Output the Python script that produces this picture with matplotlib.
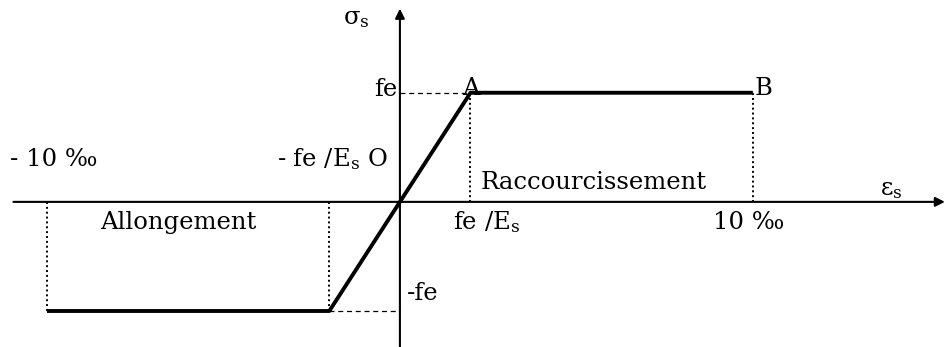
import matplotlib
matplotlib.use("Agg")
import matplotlib.pyplot as plt

# strain in per mille, stress normalised by fe
eps_limit = 10.0
eps_yield = 2.0
fe = 1.0

curve_x = [-eps_limit, -eps_yield, eps_yield, eps_limit]
curve_y = [-fe, -fe, fe, fe]

plt.rcParams['font.family'] = ['DejaVu Serif']
plt.rcParams['mathtext.fontset'] = 'custom'
plt.rcParams['mathtext.rm'] = 'DejaVu Serif'
plt.rcParams['mathtext.it'] = 'DejaVu Serif:italic'

fig = plt.figure(figsize=(9.47, 3.47), dpi=100)
ax = fig.add_axes([0, 0, 1, 1])
ax.set_xlim(-11.33, 15.5)
ax.set_ylim(-1.33, 1.85)
ax.axis('off')

# axes with arrows
ax.annotate('', xy=(15.44, 0), xytext=(-10.95, 0),
            arrowprops=dict(arrowstyle='-|>', color='black', lw=1.5,
                            mutation_scale=14, shrinkA=0, shrinkB=0))
ax.annotate('', xy=(0, 1.77), xytext=(0, -1.33),
            arrowprops=dict(arrowstyle='-|>', color='black', lw=1.5,
                            mutation_scale=14, shrinkA=0, shrinkB=0))

# guide lines
ax.plot([0, eps_yield], [fe, fe], ls=(0, (4, 3)), color='black', lw=0.9)
ax.plot([-eps_yield, 0], [-fe, -fe], ls=(0, (4, 3)), color='black', lw=0.9)
for xv, yv in [(eps_yield, fe), (eps_limit, fe), (-eps_limit, -fe), (-eps_yield, -fe)]:
    ax.plot([xv, xv], [0, yv], ls=(0, (1, 1.5)), color='black', lw=1.4)

# stress-strain curve
ax.plot(curve_x, curve_y, color='black', lw=2.8, solid_capstyle='butt')

fs = 17.5
ax.text(-1.6, 1.68, r'$\mathrm{\sigma}_\mathrm{s}$', ha='left', va='center', fontsize=fs)
ax.text(-0.08, 1.03, 'fe', ha='right', va='center', fontsize=fs)
ax.text(0.2, -0.84, '-fe', ha='left', va='center', fontsize=fs)
ax.text(eps_yield, fe + 0.04, 'A', ha='center', va='center', fontsize=fs)
ax.text(eps_limit + 0.3, fe + 0.04, 'B', ha='center', va='center', fontsize=fs)
ax.text(-11.05, 0.39, '- 10 \u2030', ha='left', va='center', fontsize=fs)
ax.text(-0.34, 0.39, r'- fe /E$_\mathrm{s}$ O', ha='right', va='center', fontsize=fs)
ax.text(-8.5, -0.185, 'Allongement', ha='left', va='center', fontsize=fs)
ax.text(2.29, 0.18, 'Raccourcissement', ha='left', va='center', fontsize=fs)
ax.text(13.6, 0.11, r'$\mathrm{\varepsilon}_\mathrm{s}$', ha='left', va='center', fontsize=fs)
ax.text(1.5, -0.185, r'fe /E$_\mathrm{s}$', ha='left', va='center', fontsize=fs)
ax.text(8.87, -0.185, '10 \u2030', ha='left', va='center', fontsize=fs)

fig.savefig('out.png', dpi=100, facecolor='white')
